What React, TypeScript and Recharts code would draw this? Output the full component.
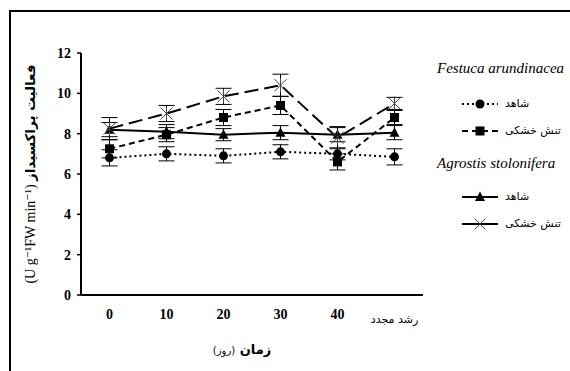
import React from 'react';
import { LineChart, Line, XAxis, YAxis, ErrorBar } from 'recharts';

const categories = ['0', '10', '20', '30', '40', 'رشد مجدد'];
const yTicks = [0, 2, 4, 6, 8, 10, 12];

const festucaControl = [6.8, 7.0, 6.9, 7.1, 7.0, 6.85];
const festucaControlErr = [0.4, 0.35, 0.35, 0.35, 0.3, 0.4];
const festucaDrought = [7.25, 7.95, 8.8, 9.4, 6.6, 8.8];
const festucaDroughtErr = [0.45, 0.35, 0.4, 0.45, 0.4, 0.35];
const agrostisControl = [8.2, 8.1, 7.95, 8.05, 7.95, 8.05];
const agrostisControlErr = [0.35, 0.35, 0.3, 0.35, 0.35, 0.35];
const agrostisDrought = [8.25, 9.0, 9.85, 10.4, 7.8, 9.5];
const agrostisDroughtErr = [0.55, 0.4, 0.4, 0.55, 0.55, 0.3];

const SERIF = "'Liberation Serif', 'Times New Roman', 'DejaVu Sans', serif";
const ARABIC = "'DejaVu Sans', 'Noto Sans', sans-serif";

const data = categories.map((c, i) => ({
  x: i + 0.5,
  fc: festucaControl[i],
  fcErr: festucaControlErr[i],
  fd: festucaDrought[i],
  fdErr: festucaDroughtErr[i],
  ac: agrostisControl[i],
  acErr: agrostisControlErr[i],
  ad: agrostisDrought[i],
  adErr: agrostisDroughtErr[i]
}));

// ── markers ─────────────────────────────────────────────────────────────────
const CircleDot = (p: any) => <circle key={p.index} cx={p.cx} cy={p.cy} r={4.5} fill="#000" />;
const SquareDot = (p: any) => <rect key={p.index} x={p.cx - 4.5} y={p.cy - 4.5} width={9} height={9} fill="#000" />;
const TriangleDot = (p: any) => (
  <polygon key={p.index} points={`${p.cx},${p.cy - 5.5} ${p.cx + 5},${p.cy + 4} ${p.cx - 5},${p.cy + 4}`} fill="#000" />
);
const StarDot = (p: any) => (
  <g key={p.index} stroke="#444" strokeWidth={1}>
    <line x1={p.cx - 6} y1={p.cy - 6} x2={p.cx + 6} y2={p.cy + 6} />
    <line x1={p.cx - 6} y1={p.cy + 6} x2={p.cx + 6} y2={p.cy - 6} />
    <line x1={p.cx} y1={p.cy - 7} x2={p.cx} y2={p.cy + 7} />
  </g>
);

const series = [
  { key: 'fc', err: 'fcErr', dash: '2 3', dot: CircleDot },
  { key: 'fd', err: 'fdErr', dash: '6 4', dot: SquareDot },
  { key: 'ac', err: 'acErr', dash: undefined, dot: TriangleDot },
  { key: 'ad', err: 'adErr', dash: '14 6', dot: StarDot }
];

const CategoryTick = (p: any) => {
  const idx = Math.round(p.payload.value - 0.5);
  const label = categories[idx];
  if (idx === categories.length - 1) {
    return (
      <text x={p.x} y={p.y} dy={14} textAnchor="middle" fontFamily={ARABIC} fontSize={11} fill="#000">
        {label}
      </text>
    );
  }
  return (
    <text x={p.x} y={p.y} dy={10} textAnchor="middle" fontFamily={SERIF} fontWeight="bold" fontSize={14} fill="#000">
      {label}
    </text>
  );
};

const YLabel = (p: any) => {
  const vb = p.viewBox;
  const cx = vb.x - 11;
  const cy = vb.y + vb.height / 2;
  return (
    <text x={cx} y={cy} transform={`rotate(-90 ${cx} ${cy})`} textAnchor="middle" dominantBaseline="central" fill="#000">
      <tspan fontFamily={SERIF} fontSize={14}>(U g⁻¹FW min⁻¹) </tspan>
      <tspan fontFamily={ARABIC} fontSize={13.5} fontWeight="bold">فعالیت پراکسیداز</tspan>
    </text>
  );
};

const XLabel = (p: any) => {
  const vb = p.viewBox;
  const cx = vb.x + vb.width / 2 - 10;
  return (
    <text x={cx} y={vb.y + 53} textAnchor="middle" direction="rtl" fill="#000" fontFamily={ARABIC}>
      <tspan fontSize={13} fontWeight="bold">زمان </tspan>
      <tspan fontSize={10}>(روز)</tspan>
    </text>
  );
};

// ── legend ──────────────────────────────────────────────────────────────────
function LegendSymbol({ dash, kind }: { dash?: string; kind: string }) {
  return (
    <svg width={36} height={12} style={{ display: 'block' }}>
      <line x1={0} y1={6} x2={36} y2={6} stroke="#000" strokeWidth={2} strokeDasharray={dash} />
      {kind === 'circle' && <circle cx={18} cy={6} r={4.5} fill="#000" />}
      {kind === 'square' && <rect x={13.5} y={1.5} width={9} height={9} fill="#000" />}
      {kind === 'triangle' && <polygon points="18,0.5 23,10 13,10" fill="#000" />}
      {kind === 'star' && (
        <g stroke="#444" strokeWidth={1}>
          <line x1={13} y1={1} x2={23} y2={11} />
          <line x1={13} y1={11} x2={23} y2={1} />
        </g>
      )}
    </svg>
  );
}

const legendGroups = [
  { title: 'Festuca arundinacea', top: 60, rows: [
    { label: 'شاهد', dash: '2 3', kind: 'circle', top: 97 },
    { label: 'تنش خشکی', dash: '6 4', kind: 'square', top: 124 }
  ] },
  { title: 'Agrostis stolonifera', top: 155, rows: [
    { label: 'شاهد', dash: undefined, kind: 'triangle', top: 190 },
    { label: 'تنش خشکی', dash: undefined, kind: 'star', top: 217 }
  ] }
];

export default function App() {
  return (
    <div style={{ position: 'absolute', left: 0, top: 0, width: 570, height: 371, overflow: 'hidden', background: '#fff' }}>
      <div style={{ position: 'absolute', left: 9, top: 10, width: 561, height: 2, background: '#000' }} />
      <div style={{ position: 'absolute', left: 9, top: 10, width: 2, height: 361, background: '#000' }} />
      <LineChart width={570} height={371} data={data} margin={{ top: 53, right: 147, bottom: 38, left: 41 }}>
        <XAxis
          xAxisId="grid"
          type="number"
          dataKey="x"
          domain={[0, 6]}
          ticks={[0, 1, 2, 3, 4, 5, 6]}
          tick={false}
          tickSize={5}
          height={6}
          axisLine={{ stroke: '#000', strokeWidth: 2 }}
          tickLine={{ stroke: '#000', strokeWidth: 1.5 }}
        />
        <XAxis
          xAxisId="lbl"
          type="number"
          dataKey="x"
          domain={[0, 6]}
          ticks={[0.5, 1.5, 2.5, 3.5, 4.5, 5.5]}
          tick={<CategoryTick />}
          axisLine={false}
          tickLine={false}
          height={32}
          label={<XLabel />}
        />
        <YAxis
          type="number"
          domain={[0, 12]}
          ticks={yTicks}
          width={40}
          tickSize={4}
          tickMargin={6}
          axisLine={{ stroke: '#000', strokeWidth: 2 }}
          tickLine={{ stroke: '#000', strokeWidth: 1.5 }}
          tick={{ fontFamily: SERIF, fontWeight: 'bold', fontSize: 14, fill: '#000' }}
          label={<YLabel />}
        />
        {series.map((s) => (
          <Line
            key={s.key}
            xAxisId="grid"
            dataKey={s.key}
            stroke="#000"
            strokeWidth={2}
            strokeDasharray={s.dash}
            dot={s.dot}
            activeDot={false}
            isAnimationActive={false}
          >
            <ErrorBar dataKey={s.err} width={8} stroke="#000" strokeWidth={1} direction="y" />
          </Line>
        ))}
      </LineChart>
      {legendGroups.map((g) => (
        <React.Fragment key={g.title}>
          <div style={{ position: 'absolute', left: 437, top: g.top, fontFamily: SERIF, fontStyle: 'italic', fontSize: 15, whiteSpace: 'nowrap' }}>
            {g.title}
          </div>
          {g.rows.map((r) => (
            <div key={r.label + r.kind} style={{ position: 'absolute', left: 462, top: r.top, display: 'flex', alignItems: 'center', gap: 7 }}>
              <LegendSymbol dash={r.dash} kind={r.kind} />
              <span style={{ fontFamily: ARABIC, fontSize: 11, direction: 'rtl', whiteSpace: 'nowrap' }}>{r.label}</span>
            </div>
          ))}
        </React.Fragment>
      ))}
    </div>
  );
}
